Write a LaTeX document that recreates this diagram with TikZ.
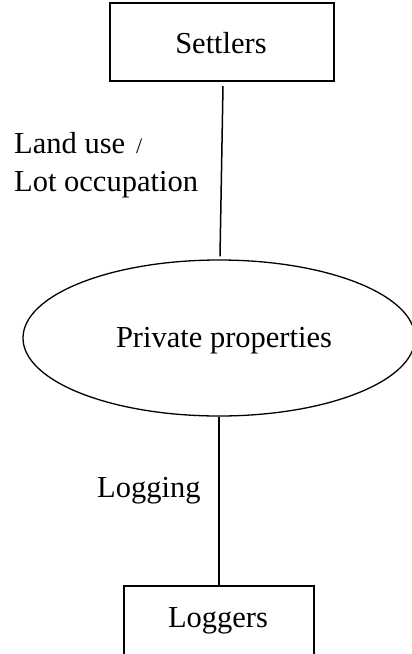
\documentclass[tikz,border=0pt]{standalone}
\usepackage{fontspec}
\setmainfont{Liberation Serif}
\usetikzlibrary{shapes.geometric,calc}
\begin{document}
\begin{tikzpicture}[x=1pt,y=-1pt,
  boxstyle/.style={draw,line width=2pt,rectangle,inner sep=0pt},
  ovalstyle/.style={draw,line width=1.3pt,ellipse,inner sep=0pt,minimum width=392pt,minimum height=156pt},
  linkstyle/.style={line width=1.5pt},
  txt/.style={inner sep=0pt,font=\fontsize{30.5}{38}\selectfont}]
\useasboundingbox (0,0) rectangle (412,654);
\clip (0,0) rectangle (412,654);
% nodes
\node[boxstyle,minimum width=224pt,minimum height=78pt] (settlers) at (222,42) {};
\node[txt,anchor=base] (settlerstext) at (221,53) {Settlers};
\node[ovalstyle] (prop) at (219,338) {};
\node[txt,anchor=base] (proptext) at (224,347) {Private properties};
\node[boxstyle,minimum width=190pt,minimum height=100pt,anchor=north] (loggers) at (219,585) {};
\node[txt,anchor=base] (loggerstext) at (218,627) {Loggers};
% labels
\node[txt,anchor=base west] (lab1) at (14,153) {Land use\hspace{11pt}{\fontsize{22}{24}\selectfont /}};
\node[txt,anchor=base west] (lab2) at (14,191) {Lot occupation};
\node[txt,anchor=base west] (lab3) at (97,497) {Logging};
% connectors
\draw[linkstyle] ($(settlers.south)+(1,4)$) -- ($(prop.north)+(1,-3)$);
\draw[linkstyle] (prop.south) -- (loggers.north);
\end{tikzpicture}
\end{document}
